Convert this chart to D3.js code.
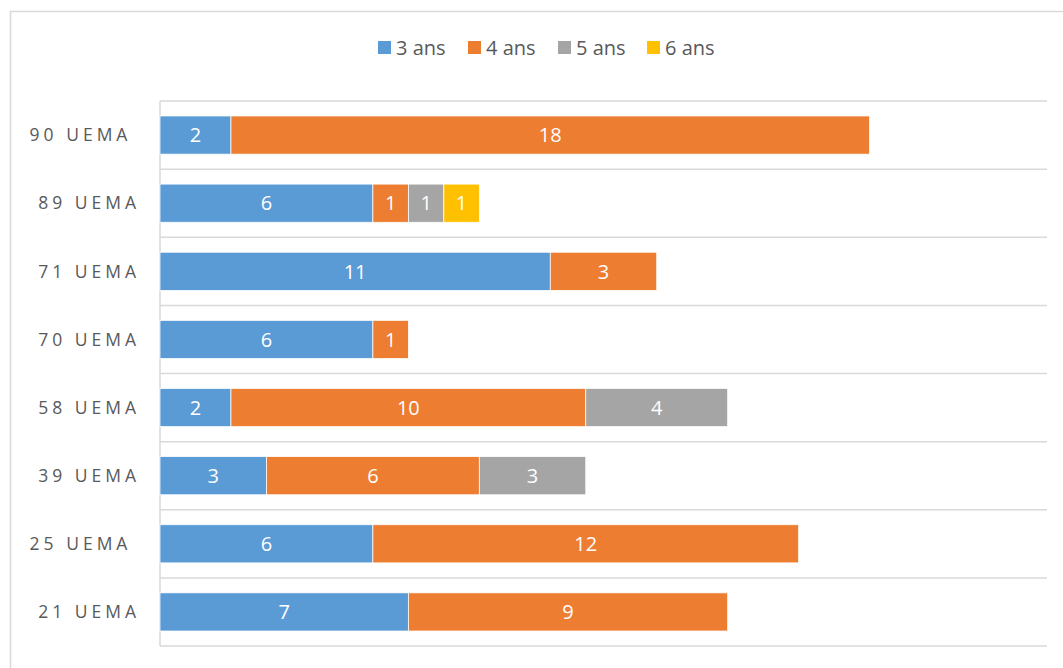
<!DOCTYPE html>
<html>
<head>
<meta charset="utf-8">
<script src="https://cdn.jsdelivr.net/npm/d3@7"></script>
<style>
  body { margin: 0; background: #fff; overflow: hidden; }
  text { font-family: "Open Sans", Lato, sans-serif; }
</style>
</head>
<body>
<div id="chart"></div>
<script>
// categories, top to bottom (trailing spaces kept as in the original labels)
const categories = ["90 UEMA\u00a0", "89 UEMA", "71 UEMA", "70 UEMA", "58 UEMA", "39 UEMA", "25 UEMA\u00a0", "21 UEMA"];
const seriesNames = ["3 ans", "4 ans", "5 ans", "6 ans"];
const ans3 = [2, 6, 11, 6, 2, 3, 6, 7];
const ans4 = [18, 1, 3, 1, 10, 6, 12, 9];
const ans5 = [0, 1, 0, 0, 4, 3, 0, 0];
const ans6 = [0, 1, 0, 0, 0, 0, 0, 0];
const colors = ["#5B9BD5", "#ED7D31", "#A5A5A5", "#FFC000"];

const W = 1063, H = 668;
const margin = {top: 101, right: 16, bottom: 22, left: 160};
const width = W - margin.left - margin.right;
const height = H - margin.top - margin.bottom;

const rows = categories.map((c, i) => ({
    cat: c,
    "3 ans": ans3[i], "4 ans": ans4[i], "5 ans": ans5[i], "6 ans": ans6[i]
}));
const stacked = d3.stack().keys(seriesNames)(rows);

const svgRoot = d3.select("#chart").append("svg")
    .attr("width", W)
    .attr("height", H);

// chart frame (runs off the right and bottom edge like the original)
svgRoot.append("rect")
    .attr("x", 10.5).attr("y", 11.5)
    .attr("width", W + 20).attr("height", H + 20)
    .attr("fill", "none")
    .attr("stroke", "#d9d9d9")
    .attr("stroke-width", 1.5);

const svg = svgRoot.append("g")
    .attr("transform", `translate(${margin.left},${margin.top})`);

const x = d3.scaleLinear().domain([0, 25]).range([0, width]);
const y = d3.scaleBand().domain(categories).range([0, height]).paddingInner(0.44).paddingOuter(0.22);

// horizontal gridlines between categories
svg.selectAll(".grid")
    .data(d3.range(categories.length + 1))
    .enter().append("line")
    .attr("x1", 0).attr("x2", width)
    .attr("y1", i => i * height / categories.length)
    .attr("y2", i => i * height / categories.length)
    .attr("stroke", "#d9d9d9")
    .attr("stroke-width", 1.5);

// left axis line
svg.append("line")
    .attr("x1", 0).attr("x2", 0)
    .attr("y1", 0).attr("y2", height)
    .attr("stroke", "#d9d9d9")
    .attr("stroke-width", 1.5);

// category labels
svg.selectAll(".cat")
    .data(categories)
    .enter().append("text")
    .attr("class", "cat")
    .attr("x", -20)
    .attr("y", d => y(d) + y.bandwidth() / 2)
    .attr("dy", "0.36em")
    .attr("text-anchor", "end")
    .attr("font-size", "17.5px")
    .attr("letter-spacing", "4px")
    .attr("fill", "#595959")
    .attr("xml:space", "preserve")
    .text(d => d);

// bars
const layers = svg.selectAll(".layer")
    .data(stacked)
    .enter().append("g")
    .attr("fill", (d, i) => colors[i]);

layers.selectAll("rect")
    .data(d => d.filter(s => s[1] - s[0] > 0))
    .enter().append("rect")
    .attr("x", d => x(d[0]))
    .attr("y", d => y(d.data.cat))
    .attr("width", d => x(d[1]) - x(d[0]))
    .attr("height", y.bandwidth())
    .attr("stroke", "#fff")
    .attr("stroke-width", 0.75);

// value labels
layers.selectAll("text")
    .data(d => d.filter(s => s[1] - s[0] > 0))
    .enter().append("text")
    .attr("x", d => (x(d[0]) + x(d[1])) / 2)
    .attr("y", d => y(d.data.cat) + y.bandwidth() / 2)
    .attr("dy", "0.36em")
    .attr("text-anchor", "middle")
    .attr("font-size", "20px")
    .attr("fill", "#fff")
    .text(d => d[1] - d[0]);

// legend
const legend = svgRoot.append("g").attr("transform", "translate(0,48)");
const itemW = [90, 90, 89, 70];
let lx = 378;
seriesNames.forEach((name, i) => {
    const g = legend.append("g").attr("transform", `translate(${lx},0)`);
    g.append("rect")
        .attr("x", 0).attr("y", -7)
        .attr("width", 13).attr("height", 13)
        .attr("fill", colors[i]);
    g.append("text")
        .attr("x", 18).attr("y", 0)
        .attr("dy", "0.36em")
        .attr("font-size", "20px")
        .attr("fill", "#595959")
        .text(name);
    lx += itemW[i];
});
</script>
</body>
</html>
